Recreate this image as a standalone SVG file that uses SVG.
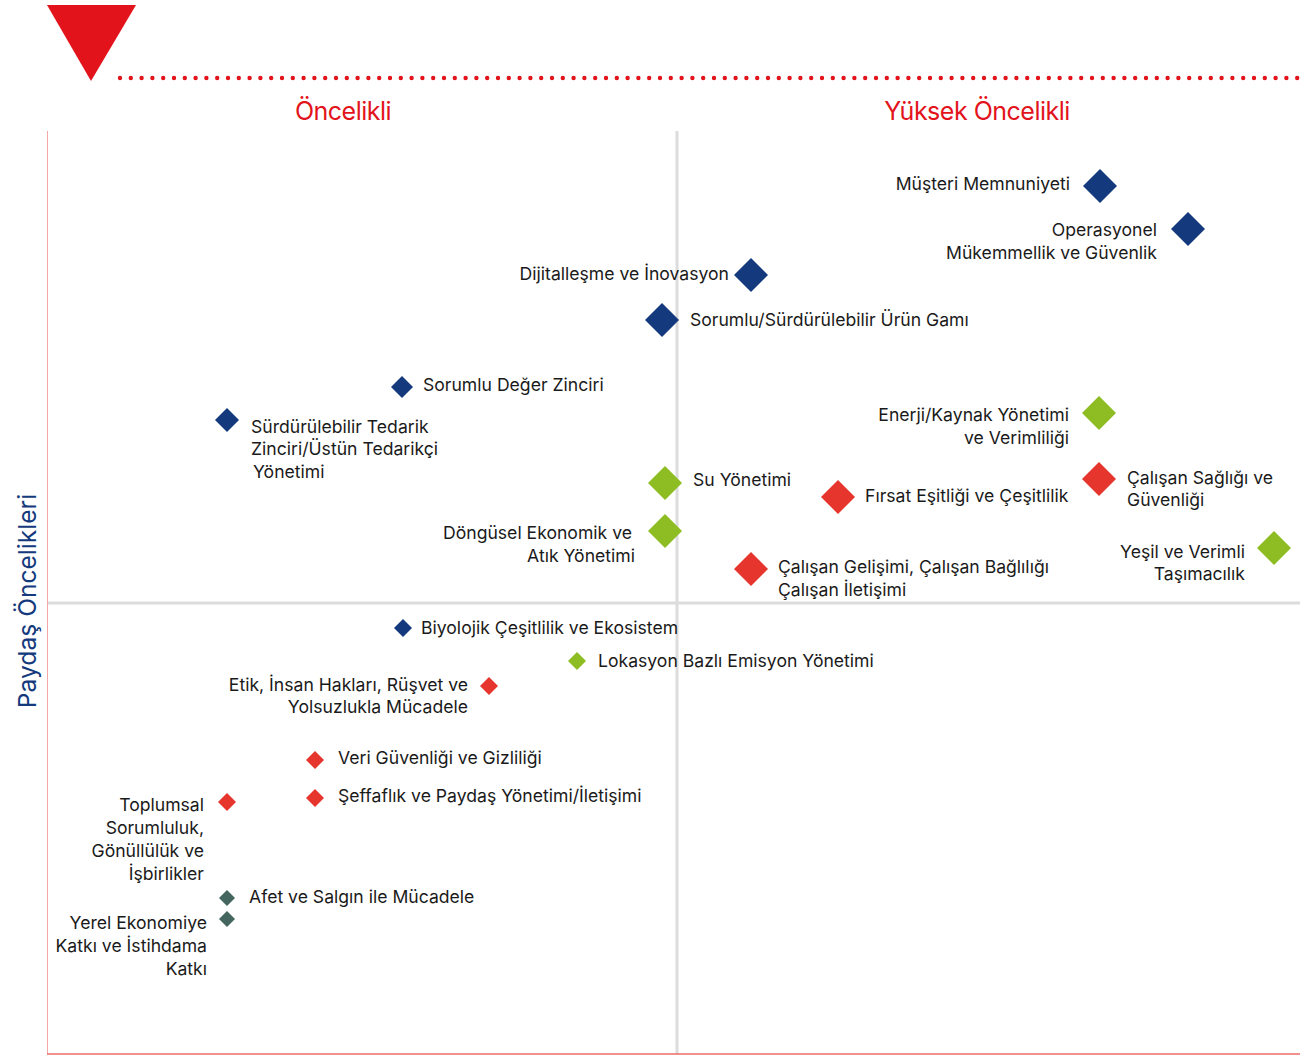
<svg xmlns="http://www.w3.org/2000/svg" width="1300" height="1055" viewBox="0 0 1300 1055">
<style>
.t{font-family:Inter,"Noto Sans","DejaVu Sans",sans-serif;font-size:17.6px;fill:#1a1a1a}
.e{text-anchor:end}
.h{font-family:Inter,"Noto Sans","DejaVu Sans",sans-serif;font-size:25px;fill:#e3131b;text-anchor:middle;letter-spacing:-0.5px}
.b{fill:#143a7d}.g{fill:#8dbd22}.r{fill:#e5352c}.s{fill:#45655f}
</style>
<rect width="1300" height="1055" fill="#fff"/>
<g id="header">
<polygon points="47,5 136,5 91,81" fill="#e3131b"/>
<line x1="120" y1="78" x2="1300" y2="78" stroke="#e3131b" stroke-width="4.4" stroke-linecap="round" stroke-dasharray="0 10.8"/>
<text class="h" x="343" y="120">Öncelikli</text>
<text class="h" x="977" y="120">Yüksek Öncelikli</text>
</g>
<g id="axes">
<line x1="677" y1="131" x2="677" y2="1054" stroke="#dcdcdc" stroke-width="3"/>
<line x1="48" y1="603" x2="1300" y2="603" stroke="#dcdcdc" stroke-width="3"/>
<line x1="47.5" y1="131" x2="47.5" y2="1054" stroke="#f2a8a8" stroke-width="1"/>
<line x1="47" y1="1054" x2="1300" y2="1054" stroke="#ee6b6b" stroke-width="1.5"/>
<text transform="translate(36,601) rotate(-90)" style="font-family:Inter,'Noto Sans',sans-serif;font-size:24.6px;fill:#143a7d;text-anchor:middle">Paydaş Öncelikleri</text>
</g>
<g id="n1"><path class="b" d="M1100,169 l17,17 l-17,17 l-17,-17z"/><text class="t e" x="1070" y="190">Müşteri Memnuniyeti</text></g>
<g id="n2"><path class="b" d="M1188,212 l17,17 l-17,17 l-17,-17z"/><text class="t e" x="1157" y="236">Operasyonel</text><text class="t e" x="1157" y="259">Mükemmellik ve Güvenlik</text></g>
<g id="n3"><path class="b" d="M751,258 l17,17 l-17,17 l-17,-17z"/><text class="t e" x="729" y="280">Dijitalleşme ve İnovasyon</text></g>
<g id="n4"><path class="b" d="M662,303 l17,17 l-17,17 l-17,-17z"/><text class="t" x="690" y="326">Sorumlu/Sürdürülebilir Ürün Gamı</text></g>
<g id="n5"><path class="b" d="M402,376 l11,11 l-11,11 l-11,-11z"/><text class="t" x="423" y="391">Sorumlu Değer Zinciri</text></g>
<g id="n6"><path class="b" d="M227,408 l12,12 l-12,12 l-12,-12z"/><text class="t" x="251" y="433">Sürdürülebilir Tedarik</text><text class="t" x="251" y="455">Zinciri/Üstün Tedarikçi</text><text class="t" x="253" y="478">Yönetimi</text></g>
<g id="n7"><path class="g" d="M1099,396 l17,17 l-17,17 l-17,-17z"/><text class="t e" x="1069" y="421">Enerji/Kaynak Yönetimi</text><text class="t e" x="1069" y="444">ve Verimliliği</text></g>
<g id="n8"><path class="g" d="M665,466 l17,17 l-17,17 l-17,-17z"/><text class="t" x="693" y="486">Su Yönetimi</text></g>
<g id="n9"><path class="r" d="M838,480 l17,17 l-17,17 l-17,-17z"/><text class="t" x="865" y="502">Fırsat Eşitliği ve Çeşitlilik</text></g>
<g id="n10"><path class="r" d="M1099,462 l17,17 l-17,17 l-17,-17z"/><text class="t" x="1127" y="484">Çalışan Sağlığı ve</text><text class="t" x="1127" y="506">Güvenliği</text></g>
<g id="n11"><path class="g" d="M665,514 l17,17 l-17,17 l-17,-17z"/><text class="t e" x="632" y="539">Döngüsel Ekonomik ve</text><text class="t e" x="635" y="562">Atık Yönetimi</text></g>
<g id="n12"><path class="g" d="M1274,531 l17,17 l-17,17 l-17,-17z"/><text class="t e" x="1245" y="558">Yeşil ve Verimli</text><text class="t e" x="1245" y="580">Taşımacılık</text></g>
<g id="n13"><path class="r" d="M751,552 l17,17 l-17,17 l-17,-17z"/><text class="t" x="778" y="573">Çalışan Gelişimi, Çalışan Bağlılığı</text><text class="t" x="778" y="596">Çalışan İletişimi</text></g>
<g id="n14"><path class="b" d="M403,619 l9,9 l-9,9 l-9,-9z"/><text class="t" x="421" y="634">Biyolojik Çeşitlilik ve Ekosistem</text></g>
<g id="n15"><path class="g" d="M577,652 l9,9 l-9,9 l-9,-9z"/><text class="t" x="598" y="667">Lokasyon Bazlı Emisyon Yönetimi</text></g>
<g id="n16"><path class="r" d="M489,677 l9,9 l-9,9 l-9,-9z"/><text class="t e" x="468" y="691">Etik, İnsan Hakları, Rüşvet ve</text><text class="t e" x="468" y="713">Yolsuzlukla Mücadele</text></g>
<g id="n17"><path class="r" d="M315,751 l9,9 l-9,9 l-9,-9z"/><text class="t" x="338" y="764">Veri Güvenliği ve Gizliliği</text></g>
<g id="n18"><path class="r" d="M315,789 l9,9 l-9,9 l-9,-9z"/><text class="t" x="338" y="802">Şeffaflık ve Paydaş Yönetimi/İletişimi</text></g>
<g id="n19"><path class="r" d="M227,793 l9,9 l-9,9 l-9,-9z"/><text class="t e" x="204" y="811">Toplumsal</text><text class="t e" x="204" y="834">Sorumluluk,</text><text class="t e" x="204" y="857">Gönüllülük ve</text><text class="t e" x="204" y="880">İşbirlikler</text></g>
<g id="n20"><path class="s" d="M227,890 l8,8 l-8,8 l-8,-8z"/><text class="t" x="249" y="903">Afet ve Salgın ile Mücadele</text></g>
<g id="n21"><path class="s" d="M227,911 l8,8 l-8,8 l-8,-8z"/><text class="t e" x="207" y="929">Yerel Ekonomiye</text><text class="t e" x="207" y="952">Katkı ve İstihdama</text><text class="t e" x="207" y="975">Katkı</text></g>
</svg>
